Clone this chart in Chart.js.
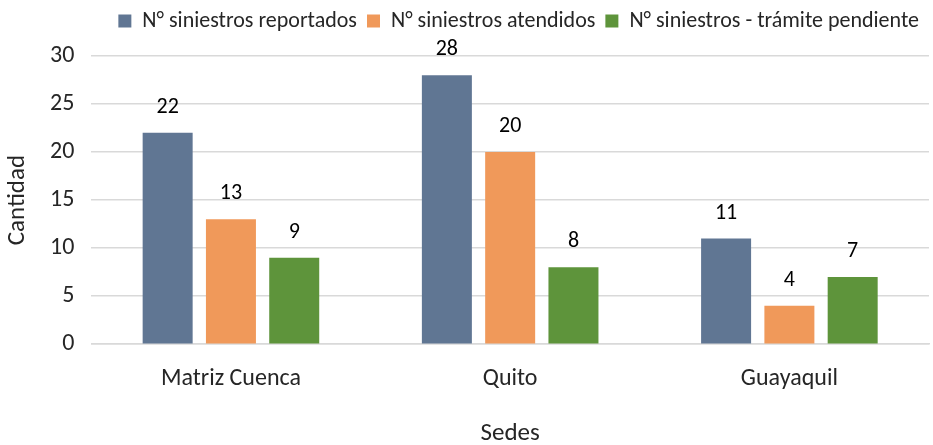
<!DOCTYPE html>
<html>
<head>
<meta charset="utf-8">
<script src="https://cdn.jsdelivr.net/npm/chart.js@4/dist/chart.umd.min.js"></script>
<style>
  html, body { margin: 0; padding: 0; background: #fff; }
  #wrap { width: 933px; height: 445px; }
</style>
</head>
<body>
<div id="wrap"><canvas id="chart" width="933" height="445"></canvas></div>
<script>
/* Siniestros por sede - barras agrupadas */
const sedes = ['Matriz Cuenca', 'Quito', 'Guayaquil'];
const reportados = [22, 28, 11];
const atendidos = [13, 20, 4];
const pendientes = [9, 8, 7];
const seriesNames = ['N° siniestros reportados', 'N° siniestros atendidos', 'N° siniestros - trámite pendiente'];

const FONT = "Carlito, Lato, 'Open Sans', sans-serif";

// value labels above each bar, positioned from the bar elements
const barLabels = {
  id: 'barLabels',
  afterDatasetsDraw(chart) {
    const ctx = chart.ctx;
    ctx.save();
    ctx.font = '22px ' + FONT;
    ctx.fillStyle = '#000';
    ctx.textAlign = 'center';
    ctx.textBaseline = 'alphabetic';
    chart.data.datasets.forEach((ds, i) => {
      chart.getDatasetMeta(i).data.forEach((bar, j) => {
        ctx.fillText(ds.data[j], bar.x, bar.y - 20);
      });
    });
    ctx.restore();
  }
};

// extra room between legend and plot
const legendGap = {
  id: 'legendGap',
  beforeInit(chart) {
    const fit = chart.legend.fit;
    chart.legend.fit = function () {
      fit.bind(chart.legend)();
      this.height += 14;
    };
  }
};

new Chart(document.getElementById('chart'), {
  type: 'bar',
  data: {
    labels: sedes,
    datasets: [
      { label: seriesNames[0], data: reportados, backgroundColor: '#607693' },
      { label: seriesNames[1], data: atendidos, backgroundColor: '#F0995A' },
      { label: seriesNames[2], data: pendientes, backgroundColor: '#5E943B' }
    ]
  },
  options: {
    responsive: false,
    animation: false,
    layout: { padding: { left: 3, right: 4, top: 0, bottom: -4 } },
    datasets: { bar: { categoryPercentage: 0.68, barPercentage: 0.79 } },
    scales: {
      y: {
        min: 0, max: 30,
        ticks: { stepSize: 5, padding: 17, color: '#262626', font: { size: 24, family: FONT } },
        grid: { color: '#D9D9D9', lineWidth: 1.5, drawTicks: false },
        border: { display: false },
        title: { display: true, text: 'Cantidad', color: '#262626', font: { size: 25, family: FONT }, padding: { top: 0, bottom: 0 } }
      },
      x: {
        ticks: { padding: 20, color: '#262626', font: { size: 24, family: FONT } },
        grid: { display: false, drawTicks: false },
        border: { color: '#D9D9D9', width: 1.5 },
        title: { display: true, text: 'Sedes', color: '#262626', font: { size: 25, family: FONT }, padding: { top: 6, bottom: 0 } }
      }
    },
    plugins: {
      legend: {
        position: 'top',
        align: 'end',
        labels: { boxWidth: 13, boxHeight: 13, padding: 10, color: '#262626', font: { size: 22, family: FONT } }
      },
      tooltip: { enabled: false }
    }
  },
  plugins: [barLabels, legendGap]
});
</script>
</body>
</html>
